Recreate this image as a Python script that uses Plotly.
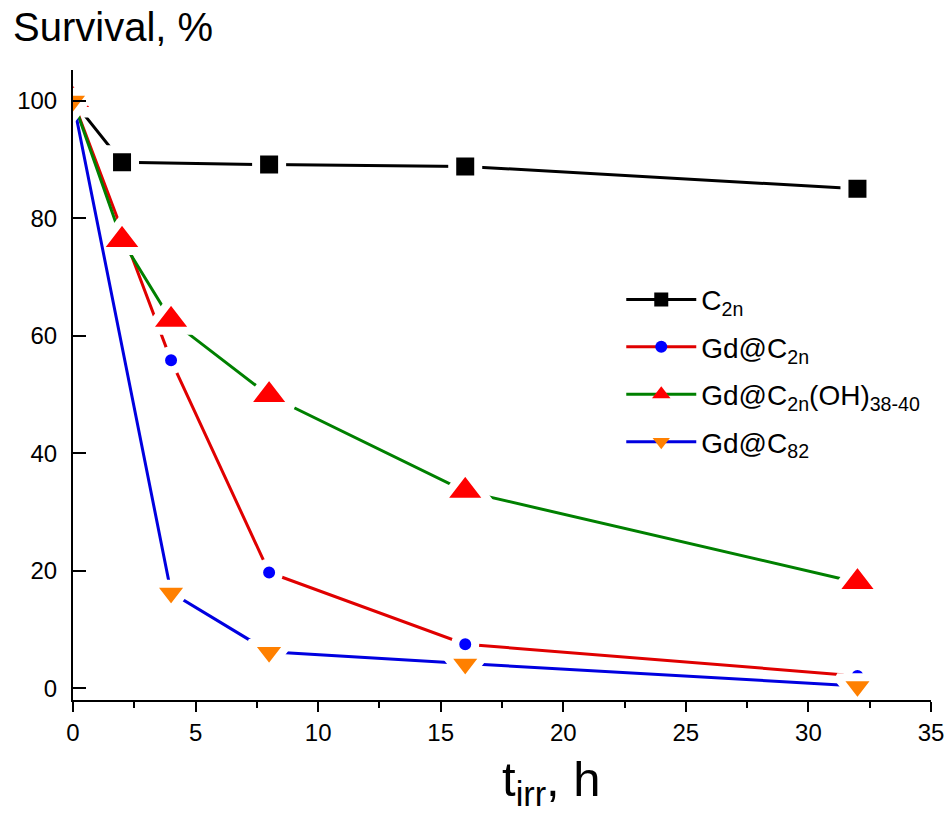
import plotly.graph_objects as go

t_c2n = [0, 2, 8, 16, 32]
s_c2n = [100, 89.5, 89.1, 88.8, 85.0]

t_gd = [0, 4, 8, 16, 32]
s_gd = [100, 55.8, 19.7, 7.5, 2.1]

t_oh = [0, 2, 4, 8, 16, 32]
s_oh = [100, 76.2, 62.6, 49.8, 33.5, 18.0]

t_82 = [0, 4, 8, 16, 32]
s_82 = [100, 16.3, 6.2, 4.2, 0.4]

names = ["C<sub>2n</sub>", "Gd@C<sub>2n</sub>",
         "Gd@C<sub>2n</sub>(OH)<sub>38-40</sub>", "Gd@C<sub>82</sub>"]

font = "Liberation Sans, Arial, sans-serif"
fig = go.Figure()

styles = [
    ("black", "black", "square", 26, 14),
    ("#e00000", "#0000ff", "circle", 20, 12),
    ("#008000", "#ff0000", "triangle-up", 42, 16),
    ("#0000e0", "#ff8000", "triangle-down", 35, 15),
]
series = [(t_c2n, s_c2n), (t_gd, s_gd), (t_oh, s_oh), (t_82, s_82)]

for (x, y), name, (lc, mc, sym, size, lsize) in zip(series, names, styles):
    fig.add_trace(go.Scatter(
        x=x, y=y, name=name, mode="lines+markers", showlegend=False,
        line=dict(color=lc, width=3),
        marker=dict(color=mc, symbol=sym, size=size,
                    line=dict(color="white", width=8)),
    ))

for name, (lc, mc, sym, size, lsize) in zip(names, styles):
    fig.add_trace(go.Scatter(
        x=[None], y=[None], name=name, mode="lines+markers", legendgroup=name,
        line=dict(color=lc, width=3),
        marker=dict(color=mc, symbol=sym, size=lsize, line=dict(width=0)),
    ))

fig.update_layout(
    width=946, height=816,
    margin=dict(l=73, r=15, t=70, b=116),
    paper_bgcolor="white", plot_bgcolor="white",
    font=dict(family=font, size=24, color="black"),
    showlegend=True,
    legend=dict(x=0.639, y=0.675, xanchor="left", yanchor="top",
                font=dict(size=28), bgcolor="rgba(0,0,0,0)",
                tracegroupgap=8, itemwidth=70),
    annotations=[
        dict(text="Survival, %", x=0, y=1, xref="paper", yref="paper",
             xanchor="left", yanchor="middle", xshift=-62, yshift=43,
             showarrow=False, font=dict(size=40)),
        dict(text="t<sub>irr</sub>, h", x=0.558, y=0, xref="paper", yref="paper",
             xanchor="center", yanchor="top", yshift=-50,
             showarrow=False, font=dict(size=49)),
    ],
)
fig.update_xaxes(
    range=[0, 35], tickvals=[0, 5, 10, 15, 20, 25, 30, 35], automargin=False,
    ticks="outside", ticklen=10, tickwidth=2, tickcolor="black",
    minor=dict(tickvals=[2.5, 7.5, 12.5, 17.5, 22.5, 27.5, 32.5],
               ticks="outside", ticklen=6, tickwidth=2, tickcolor="black"),
    showline=True, linecolor="black", linewidth=2, showgrid=False, zeroline=False,
)
fig.update_yaxes(
    range=[-2, 105.2], tickvals=[0, 20, 40, 60, 80, 100], automargin=False,
    ticks="inside", ticklen=13, tickwidth=2, tickcolor="black", ticklabelstandoff=9,
    showline=True, linecolor="black", linewidth=2, showgrid=False, zeroline=False,
)

fig.write_html("out.html", config={"displayModeBar": False},
               post_script="document.body.style.margin='0';document.body.style.overflow='hidden';")
